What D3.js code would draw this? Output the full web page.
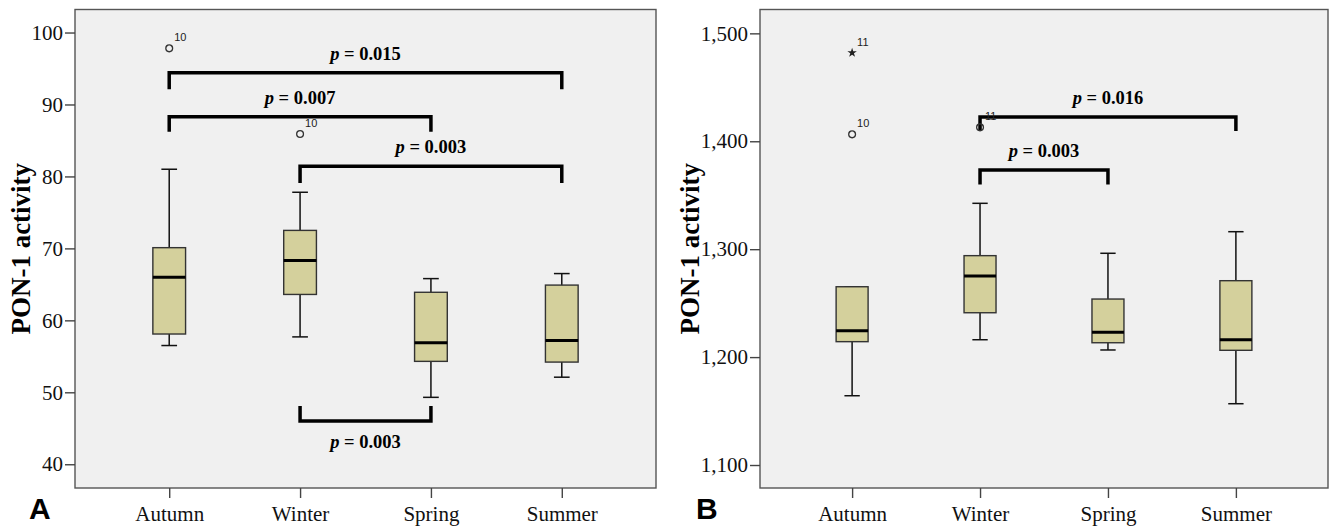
<!DOCTYPE html>
<html>
<head>
<meta charset="utf-8">
<script src="https://cdn.jsdelivr.net/npm/d3@7"></script>
<style>
  html, body { margin: 0; padding: 0; background: #ffffff; }
  svg { display: block; }
</style>
</head>
<body>
<svg id="chart" width="1330" height="527"></svg>
<script>
// ---------- DATA ----------
const categories = ["Autumn", "Winter", "Spring", "Summer"];

// Panel A (PON-1 activity)
const aMin    = [56.5, 57.7, 49.3, 52.1];
const aQ1     = [58.1, 63.6, 54.3, 54.2];
const aMedian = [66.0, 68.3, 56.9, 57.2];
const aQ3     = [70.1, 72.5, 63.9, 64.9];
const aMax    = [81.0, 77.8, 65.8, 66.5];
const aTicks  = [40, 50, 60, 70, 80, 90, 100];
const aOutliers = [
  { cat: "Autumn", value: 97.8, label: "10", symbol: "circle" },
  { cat: "Winter", value: 85.9, label: "10", symbol: "circle" }
];
const aBrackets = [
  { from: "Autumn", to: "Summer", bar: 94.4, end: 92.1, p: "0.015" },
  { from: "Autumn", to: "Spring", bar: 88.3, end: 86.2, p: "0.007" },
  { from: "Winter", to: "Summer", bar: 81.4, end: 79.1, p: "0.003" },
  { from: "Winter", to: "Spring", bar: 46.0, end: 48.1, p: "0.003" }
];

// Panel B (PON-1 activity)
const bMin    = [1164.2, 1216.1, 1206.6, 1156.8];
const bQ1     = [1214.3, 1241.1, 1213.3, 1206.3];
const bMedian = [1224.4, 1275.1, 1223.0, 1216.1];
const bQ3     = [1265.2, 1294.0, 1253.8, 1270.8];
const bMax    = [1265.2, 1342.5, 1296.2, 1316.2];
const bTicks  = [1100, 1200, 1300, 1400, 1500];
const bOutliers = [
  { cat: "Autumn", value: 1482.0, label: "11", symbol: "star" },
  { cat: "Autumn", value: 1406.4, label: "10", symbol: "circle" },
  { cat: "Winter", value: 1412.9, label: "11", symbol: "circle" }
];
const bBrackets = [
  { from: "Winter", to: "Summer", bar: 1422.6, end: 1409.5, p: "0.016" },
  { from: "Winter", to: "Spring", bar: 1373.3, end: 1359.9, p: "0.003" }
];

const yTitle = "PON-1 activity";

// ---------- DRAW ----------
const svg = d3.select("#chart");
const serif = "'Liberation Serif','Times New Roman',Times,serif";
const sans = "'Liberation Sans',Arial,Helvetica,sans-serif";
const boxFill = "#d4d09c";

function panel(cfg) {
  const { left, right, top, bottom, domain, ticks, fmt,
          mins, q1s, meds, q3s, maxs, outliers, brackets, letter, titleX, letterX } = cfg;
  const g = svg.append("g");
  const x = d3.scalePoint().domain(categories).range([left, right]).padding(0.72);
  const y = d3.scaleLinear().domain(domain).range([bottom, top]);

  // plot background + frame
  g.append("rect")
    .attr("x", left).attr("y", top)
    .attr("width", right - left).attr("height", bottom - top)
    .attr("fill", "#f0f0f0").attr("stroke", "#555").attr("stroke-width", 1.4);

  // axes
  const ya = g.append("g").attr("transform", `translate(${left},0)`)
    .call(d3.axisLeft(y).tickValues(ticks).tickFormat(fmt).tickSize(10).tickPadding(2));
  ya.select(".domain").remove();
  ya.selectAll("line").attr("stroke", "#444").attr("stroke-width", 1.4);
  ya.selectAll("text").attr("font-family", serif).attr("font-size", 21).attr("fill", "#111");

  const xa = g.append("g").attr("transform", `translate(0,${bottom})`)
    .call(d3.axisBottom(x).tickSize(10).tickPadding(8));
  xa.select(".domain").remove();
  xa.selectAll("line").attr("stroke", "#444").attr("stroke-width", 1.4);
  xa.selectAll("text").attr("font-family", serif).attr("font-size", 21).attr("fill", "#111");

  // y title
  g.append("text")
    .attr("transform", `translate(${titleX},${(top + bottom) / 2}) rotate(-90)`)
    .attr("text-anchor", "middle").attr("dominant-baseline", "central")
    .attr("font-family", serif).attr("font-weight", "bold").attr("font-size", 27)
    .attr("fill", "#000").text(yTitle);

  // panel letter
  g.append("text").attr("x", letterX).attr("y", 519)
    .attr("font-family", sans).attr("font-weight", "bold").attr("font-size", 30)
    .attr("fill", "#000").text(letter);

  const step = x.step();
  const bw = step * 0.25;
  const cw = step * 0.12;
  const rows = categories.map((c, i) => ({ c, min: mins[i], q1: q1s[i], med: meds[i], q3: q3s[i], max: maxs[i] }));

  const bx = g.append("g").selectAll("g").data(rows).join("g");
  // whiskers
  bx.append("line").attr("x1", d => x(d.c)).attr("x2", d => x(d.c))
    .attr("y1", d => y(d.max)).attr("y2", d => y(d.min))
    .attr("stroke", "#111").attr("stroke-width", 1.5);
  bx.append("line").attr("x1", d => x(d.c) - cw / 2).attr("x2", d => x(d.c) + cw / 2)
    .attr("y1", d => y(d.max)).attr("y2", d => y(d.max))
    .attr("stroke", "#111").attr("stroke-width", 1.5);
  bx.append("line").attr("x1", d => x(d.c) - cw / 2).attr("x2", d => x(d.c) + cw / 2)
    .attr("y1", d => y(d.min)).attr("y2", d => y(d.min))
    .attr("stroke", "#111").attr("stroke-width", 1.5);
  // box
  bx.append("rect").attr("x", d => x(d.c) - bw / 2).attr("width", bw)
    .attr("y", d => y(d.q3)).attr("height", d => y(d.q1) - y(d.q3))
    .attr("fill", boxFill).attr("stroke", "#333").attr("stroke-width", 1.4);
  // median
  bx.append("line").attr("x1", d => x(d.c) - bw / 2).attr("x2", d => x(d.c) + bw / 2)
    .attr("y1", d => y(d.med)).attr("y2", d => y(d.med))
    .attr("stroke", "#000").attr("stroke-width", 3);

  // brackets
  const br = g.append("g").selectAll("g").data(brackets).join("g");
  br.append("path")
    .attr("d", d => `M${x(d.from)},${y(d.end)}V${y(d.bar)}H${x(d.to)}V${y(d.end)}`)
    .attr("fill", "none").attr("stroke", "#000").attr("stroke-width", 3.5)
    .attr("stroke-linejoin", "miter").attr("stroke-linecap", "butt");
  const pt = br.append("text")
    .attr("x", d => (x(d.from) + x(d.to)) / 2)
    .attr("y", d => d.end > d.bar ? y(d.bar) + 27 : y(d.bar) - 13)
    .attr("text-anchor", "middle")
    .attr("font-family", serif).attr("font-weight", "bold").attr("font-size", 18.5)
    .attr("fill", "#000");
  pt.append("tspan").attr("font-style", "italic").text("p");
  pt.append("tspan").text(d => " = " + d.p);

  // outliers
  const og = g.append("g").selectAll("g").data(outliers).join("g")
    .attr("transform", d => `translate(${x(d.cat)},${y(d.value)})`);
  og.filter(d => d.symbol === "circle").append("circle")
    .attr("r", 3.4).attr("fill", "none").attr("stroke", "#333").attr("stroke-width", 1.3);
  og.filter(d => d.symbol === "star").append("path")
    .attr("d", d3.symbol().type(d3.symbolStar).size(28)())
    .attr("fill", "#222");
  og.append("text").attr("x", 5).attr("y", -7)
    .attr("font-family", sans).attr("font-size", 11).attr("fill", "#222")
    .text(d => d.label);
}

panel({
  left: 75, right: 656, top: 9.5, bottom: 488,
  domain: [36.7, 103.2], ticks: aTicks, fmt: d3.format("d"),
  mins: aMin, q1s: aQ1, meds: aMedian, q3s: aQ3, maxs: aMax,
  outliers: aOutliers, brackets: aBrackets, letter: "A", titleX: 21, letterX: 29
});
panel({
  left: 760, right: 1328, top: 9.5, bottom: 488,
  domain: [1078.7, 1522.1], ticks: bTicks, fmt: d3.format(","),
  mins: bMin, q1s: bQ1, meds: bMedian, q3s: bQ3, maxs: bMax,
  outliers: bOutliers, brackets: bBrackets, letter: "B", titleX: 690, letterX: 696
});
</script>
</body>
</html>
